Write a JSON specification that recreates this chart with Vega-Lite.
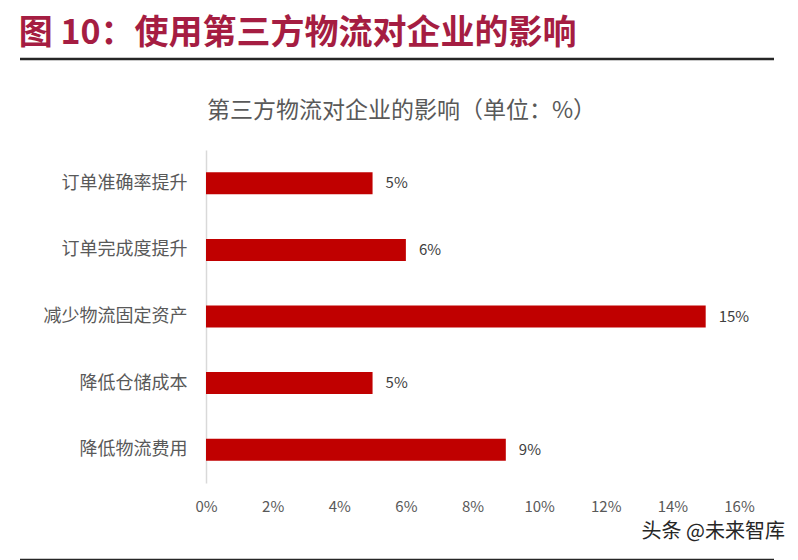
{
  "$schema": "https://vega.github.io/schema/vega-lite/v6.json",
  "padding": {"left": 18, "top": 16, "right": 10, "bottom": 0},
  "background": "white",
  "config": {"view": {"stroke": null}, "font": "Noto Sans CJK SC"},
  "title": {"text": "图 10：使用第三方物流对企业的影响", "anchor": "start", "frame": "bounds", "fontSize": 34, "fontWeight": "bold", "color": "#A51D42", "font": "Noto Sans CJK SC", "offset": 7},
  "datasets": {
    "impact": [
      {"item": "订单准确率提升", "value": 0.05},
      {"item": "订单完成度提升", "value": 0.06},
      {"item": "减少物流固定资产", "value": 0.15},
      {"item": "降低仓储成本", "value": 0.05},
      {"item": "降低物流费用", "value": 0.09}
    ],
    "line": [{"line": 0}]
  },
  "spacing": 8,
  "vconcat": [
    {
      "width": 754,
      "height": 33,
      "data": {"name": "line"},
      "mark": {"type": "rule", "color": "#262626", "strokeWidth": 2.5},
      "encoding": {"y": {"field": "line", "type": "quantitative", "axis": null, "scale": {"domain": [0, 1], "reverse": true}}}
    },
    {
      "spacing": 7,
      "hconcat": [
        {
          "width": 167,
          "height": 333,
          "data": {"name": "impact"},
          "mark": {"type": "text", "text": ""},
          "encoding": {
            "y": {"field": "item", "type": "nominal", "sort": null, "scale": {"paddingInner": 0.67, "paddingOuter": 0.335},
              "axis": {"orient": "right", "title": null, "domain": false, "ticks": false, "labelAlign": "right", "labelPadding": 0, "labelFontSize": 18, "labelColor": "#595959", "labelFont": "Noto Sans CJK SC"}}
          }
        },
        {
          "width": 533,
          "height": 333,
          "title": {"text": "第三方物流对企业的影响（单位：%）", "anchor": "middle", "frame": "group", "dx": -71, "fontSize": 23, "fontWeight": "normal", "color": "#595959", "offset": 27, "font": "Noto Sans CJK SC"},
          "data": {"name": "impact"},
          "encoding": {
            "y": {"field": "item", "type": "nominal", "sort": null, "scale": {"paddingInner": 0.67, "paddingOuter": 0.335},
              "axis": {"title": null, "labels": false, "domainColor": "#D9D9D9", "domainWidth": 1.5, "ticks": false}},
            "x": {"field": "value", "type": "quantitative", "scale": {"domain": [0, 0.16], "nice": false},
              "axis": {"title": null, "domain": false, "ticks": false, "grid": false, "format": ".0%", "values": [0, 0.02, 0.04, 0.06, 0.08, 0.1, 0.12, 0.14, 0.16], "labelFlush": false, "labelFontSize": 15, "labelColor": "#595959", "labelPadding": 16}}
          },
          "layer": [
            {"mark": {"type": "bar", "color": "#C00000"}},
            {"mark": {"type": "text", "align": "left", "baseline": "middle", "dx": 13, "fontSize": 15, "color": "#404040"},
             "encoding": {"text": {"field": "value", "type": "quantitative", "format": ".0%"}}}
          ]
        }
      ]
    },
    {
      "width": 754,
      "height": 18,
      "title": {"text": "头条 @未来智库", "anchor": "end", "frame": "group", "dx": 11, "fontSize": 20, "color": "#262626", "offset": 0, "fontWeight": "normal", "font": "Noto Sans CJK SC"},
      "data": {"name": "line"},
      "mark": {"type": "rule", "color": "#262626", "strokeWidth": 2.5},
      "encoding": {"y": {"field": "line", "type": "quantitative", "axis": null, "scale": {"domain": [0, 1]}}}
    }
  ]
}
